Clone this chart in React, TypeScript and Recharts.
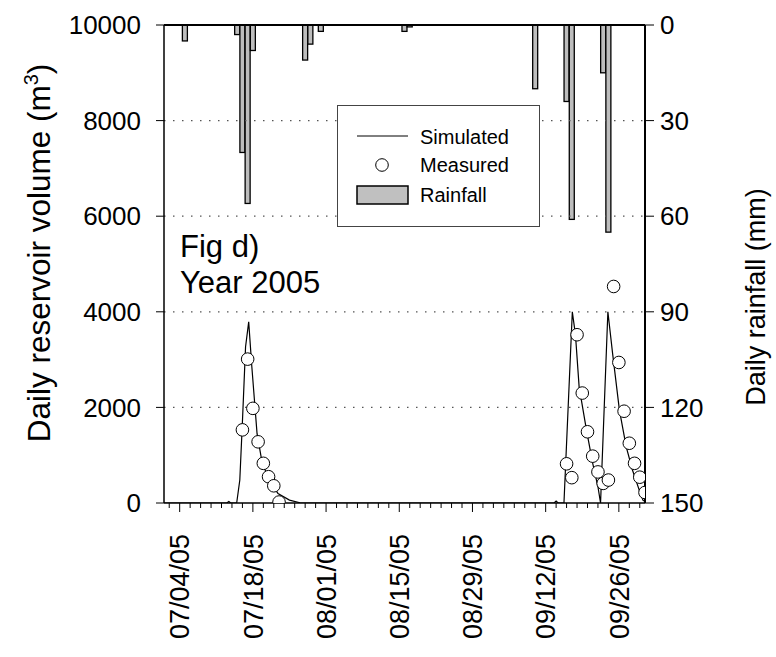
import { ComposedChart, Bar, Line, Scatter, XAxis, YAxis, ReferenceLine, Legend } from 'recharts';

// day 0 = 07/01/05, axis runs to 10/01/05 (day 92)
const labelDays = [3, 17, 31, 45, 59, 73, 87];
const dateLabels = ['07/04/05', '07/18/05', '08/01/05', '08/15/05', '08/29/05', '09/12/05', '09/26/05'];
const dayTicks = [1, 3, 5, 7, 9, 11, 13, 15, 17, 19, 21, 23, 25, 27, 29, 31, 33, 35, 37, 39, 41, 43, 45,
  47, 49, 51, 53, 55, 57, 59, 61, 63, 65, 67, 69, 71, 73, 75, 77, 79, 81, 83, 85, 87, 89, 91];

const volTicks = [0, 2000, 4000, 6000, 8000, 10000];
const rainTicks = [0, 30, 60, 90, 120, 150];
const gridVolumes = [2000, 4000, 6000, 8000];

// daily rainfall (mm)
const rainDays = [4, 14, 15, 16, 17, 27, 28, 30, 46, 47, 71, 77, 78, 84, 85];
const rainMm = [5, 3, 40, 56, 8, 11, 6, 2, 2, 0.6, 20, 24, 61, 15, 65];

// simulated reservoir volume (m3)
const simDays = [0, 12, 12.4, 12.8, 13.9, 14.5, 15, 15.6, 16.2, 16.8, 17.3, 17.8, 18.6, 19.9, 21.8, 24, 26, 27,
  74.6, 75, 75.4, 76.5, 78.1, 78.7, 79.4, 80.8, 82, 83, 83.5, 84.9, 85.8, 87.1, 88.4, 89.6, 90.9, 91.6, 92];
const simVolume = [0, 0, 30, 0, 0, 480, 1700, 3270, 3790, 2850, 2150, 1450, 950, 500, 200, 60, 5, 0,
  0, 40, 0, 0, 4000, 3520, 2430, 1530, 830, 340, 0, 4000, 3130, 1950, 1180, 690, 270, 60, 30];

// measured reservoir volume (m3)
const measDays = [15, 16, 17, 18, 19, 20, 21, 22,
  77, 78, 79, 80, 81, 82, 83, 84, 85, 86, 87, 88, 89, 90, 91, 92];
const measVolume = [1530, 3010, 1980, 1280, 830, 550, 360, 20,
  820, 530, 3520, 2300, 1490, 980, 650, 410, 480, 4530, 2940, 1920, 1250, 830, 540, 220];

const rainRows = rainDays.map((d, i) => ({ day: d, rain: rainMm[i] }));
const simRows = simDays.map((d, i) => ({ day: d, sim: simVolume[i] }));
const measRows = measDays.map((d, i) => ({ day: d, meas: measVolume[i] }));

const font = 'Arial, "Liberation Sans", sans-serif';
const BAR_W = 5;

function DayTick({ x, y, payload }: any) {
  const idx = labelDays.indexOf(payload.value);
  const major = idx >= 0;
  return (
    <g>
      <line x1={x} y1={y} x2={x} y2={y + (major ? 9 : 5)} stroke="#000" strokeWidth={1} />
      {major && (
        <text
          x={x}
          y={y + 31}
          transform={`rotate(-90 ${x} ${y + 31})`}
          textAnchor="end"
          dy="0.36em"
          fontSize={27}
          fontFamily={font}
          fill="#000"
        >
          {dateLabels[idx]}
        </text>
      )}
    </g>
  );
}

// rain bars hang from the top axis; keep a fixed width around the day centre
function RainBar({ x, y, width, height }: any) {
  const cx = x + (width || 0) / 2;
  const top = Math.min(y, y + height);
  const h = Math.abs(height);
  return <rect x={cx - BAR_W / 2} y={top} width={BAR_W} height={h} fill="#bdbdbd" stroke="#000" strokeWidth={1.3} />;
}

function MeasuredDot({ cx, cy }: any) {
  return <circle cx={cx} cy={cy} r={6.3} fill="#fff" stroke="#000" strokeWidth={1} />;
}

function LegendBox() {
  return (
    <div style={{ width: 203, height: 122, boxSizing: 'border-box', border: '1px solid #444', background: '#fff' }}>
      <svg width={201} height={120} style={{ display: 'block' }} fontFamily={font} fontSize={20}>
        <line x1={19} y1={30} x2={70} y2={30} stroke="#000" strokeWidth={1} />
        <circle cx={44} cy={59} r={6.3} fill="#fff" stroke="#000" strokeWidth={1} />
        <rect x={19} y={80} width={51} height={18} fill="#c0c0c0" stroke="#000" strokeWidth={1.5} />
        <text x={82} y={31} dy="0.36em" fill="#000">Simulated</text>
        <text x={82} y={59} dy="0.36em" fill="#000">Measured</text>
        <text x={82} y={89} dy="0.36em" fill="#000">Rainfall</text>
      </svg>
    </div>
  );
}

export default function App() {
  return (
    <div style={{ position: 'absolute', left: 0, top: 0, width: 776, height: 657, background: '#fff' }}>
      <ComposedChart width={776} height={657} data={rainRows} margin={{ top: 25, right: 0, bottom: 0, left: 0 }}>
        <XAxis
          dataKey="day"
          type="number"
          domain={[0, 92]}
          ticks={dayTicks}
          interval={0}
          allowDataOverflow
          height={154}
          tickSize={0}
          tickMargin={0}
          tickLine={false}
          tick={<DayTick />}
          axisLine={{ stroke: '#000', strokeWidth: 1.5 }}
        />
        <YAxis
          yAxisId="vol"
          orientation="left"
          width={164}
          domain={[0, 10000]}
          ticks={volTicks}
          interval={0}
          allowDataOverflow
          tickSize={8}
          tickMargin={15}
          tick={{ fontSize: 26, fontFamily: font, fill: '#000' }}
          tickLine={{ stroke: '#000' }}
          axisLine={{ stroke: '#000', strokeWidth: 1.5 }}
        />
        <YAxis
          yAxisId="rain"
          orientation="right"
          width={131}
          domain={[0, 150]}
          reversed
          ticks={rainTicks}
          interval={0}
          allowDataOverflow
          tickSize={9}
          tickMargin={6}
          tick={{ fontSize: 26, fontFamily: font, fill: '#000' }}
          tickLine={{ stroke: '#000' }}
          axisLine={{ stroke: '#000', strokeWidth: 2 }}
        />
        {gridVolumes.map((v) => (
          <ReferenceLine key={v} yAxisId="vol" y={v} stroke="#555" strokeWidth={1.2} strokeDasharray="1.5 7.5" />
        ))}
        <ReferenceLine yAxisId="vol" y={10000} stroke="#000" strokeWidth={2} />
        <Bar yAxisId="rain" dataKey="rain" barSize={BAR_W} shape={<RainBar />} isAnimationActive={false} />
        <Line
          yAxisId="vol"
          data={simRows}
          dataKey="sim"
          type="linear"
          stroke="#000"
          strokeWidth={1.2}
          dot={false}
          activeDot={false}
          isAnimationActive={false}
        />
        <Scatter yAxisId="vol" data={measRows} dataKey="meas" shape={<MeasuredDot />} isAnimationActive={false} />
        <Legend
          layout="horizontal"
          verticalAlign="middle"
          align="center"
          content={<LegendBox />}
          wrapperStyle={{ left: 337, top: 105, width: 203, height: 122 }}
        />
        <text x={180} y={257} fontSize={31} fontFamily={font} fill="#000">Fig d)</text>
        <text x={180} y={293} fontSize={31} fontFamily={font} fill="#000">Year 2005</text>
        <text x={50} y={253} transform="rotate(-90 50 253)" textAnchor="middle" fontSize={31.5} fontFamily={font} fill="#000">
          <tspan>Daily reservoir volume (m</tspan>
          <tspan dy={-12} fontSize={20}>3</tspan>
          <tspan dy={12}>)</tspan>
        </text>
        <text x={765} y={297} transform="rotate(-90 765 297)" textAnchor="middle" fontSize={27} fontFamily={font} fill="#000">
          Daily rainfall (mm)
        </text>
      </ComposedChart>
    </div>
  );
}
